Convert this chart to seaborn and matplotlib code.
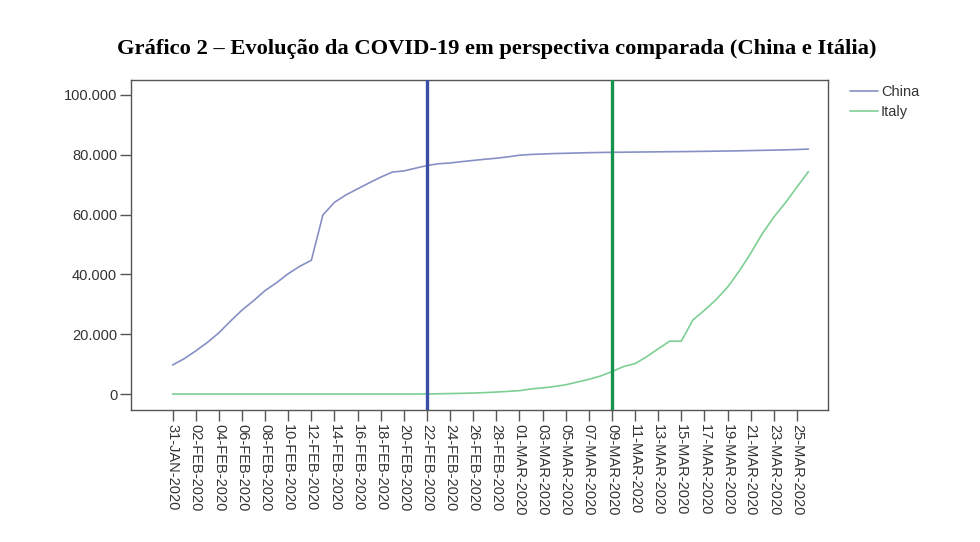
import numpy as np
import pandas as pd
import matplotlib
matplotlib.use("Agg")
import matplotlib.pyplot as plt
import matplotlib.ticker as mticker
import seaborn as sns

# ---- data (cumulative confirmed cases) ----
start_date = "2020-01-31"
n_days = 56
china = [9720, 11821, 14411, 17238, 20471, 24363, 28060, 31211, 34598, 37251,
         40235, 42708, 44730, 59882, 64100, 66600, 68600, 70600, 72500, 74200,
         74600, 75500, 76400, 77000, 77250, 77700, 78100, 78500, 78850, 79300,
         79850, 80100, 80250, 80400, 80500, 80600, 80700, 80760, 80820, 80860,
         80900, 80940, 80980, 81020, 81060, 81100, 81150, 81200, 81260, 81320,
         81400, 81480, 81560, 81650, 81750, 81900]
italy = [2, 2, 2, 2, 2, 2, 2, 3, 3, 3,
         3, 3, 3, 3, 3, 3, 3, 3, 3, 3,
         3, 3, 17, 79, 157, 229, 323, 470, 655, 889,
         1128, 1694, 2036, 2502, 3089, 4000, 4900, 6000, 7500, 9172,
         10149, 12462, 15113, 17660, 17660, 24747, 27980, 31506, 35713, 41035,
         47021, 53578, 59138, 63927, 69176, 74386]
countries = ["China", "Italy"]
line_dates = ["2020-02-22", "2020-03-09"]
title = "Gráfico 2 – Evolução da COVID-19 em perspectiva comparada (China e Itália)"

dates = pd.date_range(start_date, periods=n_days, freq="D")
df = pd.concat([
    pd.DataFrame({"date": dates, "cases": china, "country": "China"}),
    pd.DataFrame({"date": dates, "cases": italy, "country": "Italy"}),
])

sns.set_theme(style="white")
plt.rcParams["font.family"] = ["Liberation Sans", "DejaVu Sans"]

fig = plt.figure(figsize=(9.8, 5.42), dpi=100)
ax = fig.add_axes([0.1337, 0.2435, 0.845 - 0.1337, 0.8524 - 0.2435])

palette = {"China": "#8790c4", "Italy": "#7dcf93"}
sns.lineplot(data=df, x="date", y="cases", hue="country", palette=palette,
             linewidth=1.2, ax=ax, legend=True)

ax.axvline(pd.Timestamp(line_dates[0]), color="#3b4ea6", linewidth=2.4, zorder=3)
ax.axvline(pd.Timestamp(line_dates[1]), color="#17934f", linewidth=2.4, zorder=3)

ax.set_ylim(-5350, 105000)
ax.set_xlim(dates[0] - pd.Timedelta(days=3.6), dates[0] + pd.Timedelta(days=56.7))
ax.set_yticks([0, 20000, 40000, 60000, 80000, 100000])
ax.yaxis.set_major_formatter(mticker.FuncFormatter(
    lambda v, p: f"{int(v):,}".replace(",", ".")))
tick_dates = dates[::2][:28]
ax.set_xticks(tick_dates)
ax.set_xticklabels([d.strftime("%d-%b-%Y").upper() for d in tick_dates],
                   rotation=-90, ha="center", va="top")
ax.set_xlabel("")
ax.set_ylabel("")

for s in ax.spines.values():
    s.set_visible(True)
    s.set_color("#555555")
    s.set_linewidth(1.0)
ax.tick_params(axis="both", direction="out", length=8, width=1.0,
               color="#555555", labelsize=10.5, labelcolor="#333333",
               bottom=True, left=True, pad=2)
ax.grid(False)

leg = ax.legend(loc="upper left", bbox_to_anchor=(1.017, 1.015), frameon=False,
                fontsize=10.5, handlelength=1.9, handletextpad=0.2,
                labelspacing=0.4, borderaxespad=0.3)
for t in leg.get_texts():
    t.set_color("#333333")

fig.text(0.507, 1 - 49 / 542, title, ha="center", va="center",
         fontsize=16.2, fontweight="bold", family=["Liberation Serif", "DejaVu Serif"],
         color="#000000")

fig.savefig("out.png", dpi=100, facecolor="white")
